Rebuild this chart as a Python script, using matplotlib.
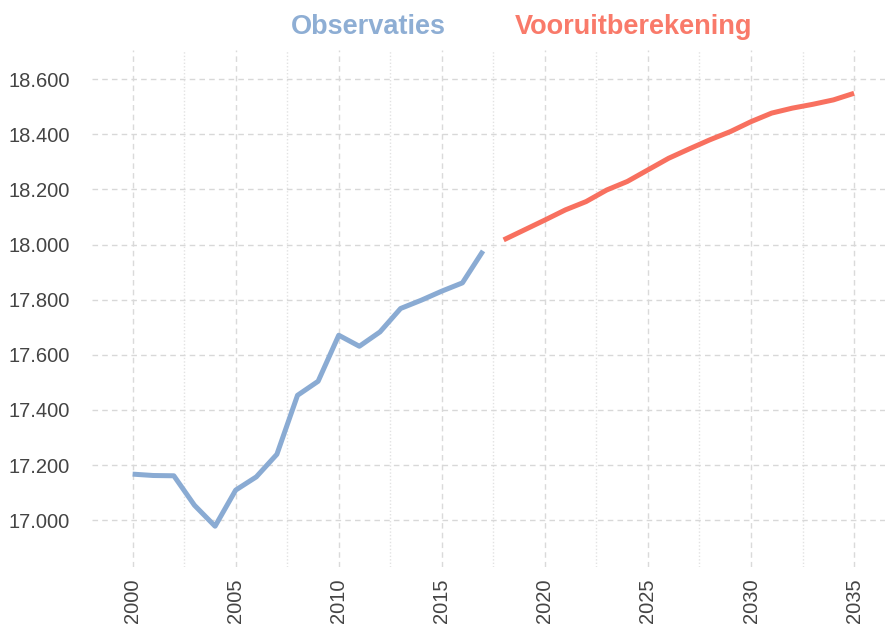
import numpy as np
import matplotlib.pyplot as plt
from matplotlib.ticker import FuncFormatter, MultipleLocator

# observaties (2000-2017)
obs_years = list(range(2000, 2018))
obs_values = [17167, 17162, 17161, 17054, 16978, 17109, 17157, 17239, 17453,
              17504, 17671, 17631, 17683, 17768, 17798, 17831, 17861, 17977]

# vooruitberekening (2018-2035)
proj_years = list(range(2018, 2036))
proj_values = [18017, 18053, 18089, 18126, 18156, 18198, 18229, 18271, 18313,
               18347, 18380, 18410, 18446, 18477, 18495, 18509, 18525, 18549]

blue = "#8aabd3"
red = "#f8705f"

plt.rcParams['font.family'] = ['Liberation Sans', 'DejaVu Sans']

fig = plt.figure(figsize=(8.85, 6.3), dpi=100)
ax = fig.add_axes([92 / 885, 63 / 630, 793 / 885, 517 / 630])

ax.plot(obs_years, obs_values, color=blue, lw=3.6, solid_capstyle='butt')
ax.plot(proj_years, proj_values, color=red, lw=3.6, solid_capstyle='butt')

ax.set_xlim(1998.03, 2036.5)
ax.set_ylim(16830, 18706)

ax.xaxis.set_major_locator(MultipleLocator(5))
ax.xaxis.set_minor_locator(MultipleLocator(2.5))
ax.yaxis.set_major_locator(MultipleLocator(200))
ax.yaxis.set_major_formatter(FuncFormatter(lambda v, p: f"{v:,.0f}".replace(",", ".")))

# rasterlijnen
ax.grid(axis='x', which='major', color='#dadada', ls=(0, (4, 3)), lw=1)
ax.grid(axis='x', which='minor', color='#e2e2e2', ls=(0, (1, 1.5)), lw=1)
ax.grid(axis='y', which='major', color='#d8d8d8', ls=(0, (4, 3)), lw=1)
ax.set_axisbelow(True)

for s in ax.spines.values():
    s.set_visible(False)
ax.tick_params(axis='both', which='both', length=0, labelsize=14.5, labelcolor='#444444')
ax.tick_params(axis='y', pad=16)
ax.tick_params(axis='x', pad=8)
for lbl in ax.get_xticklabels():
    lbl.set_rotation(90)

fig.text(368 / 885, 1 - 27 / 630, "Observaties", color="#8eaed4", fontsize=19.5,
         fontweight='bold', ha='center', va='center')
fig.text(634 / 885, 1 - 27 / 630, "Vooruitberekening", color="#f97a6a", fontsize=19.5,
         fontweight='bold', ha='center', va='center')

fig.savefig("out.png", dpi=100)
